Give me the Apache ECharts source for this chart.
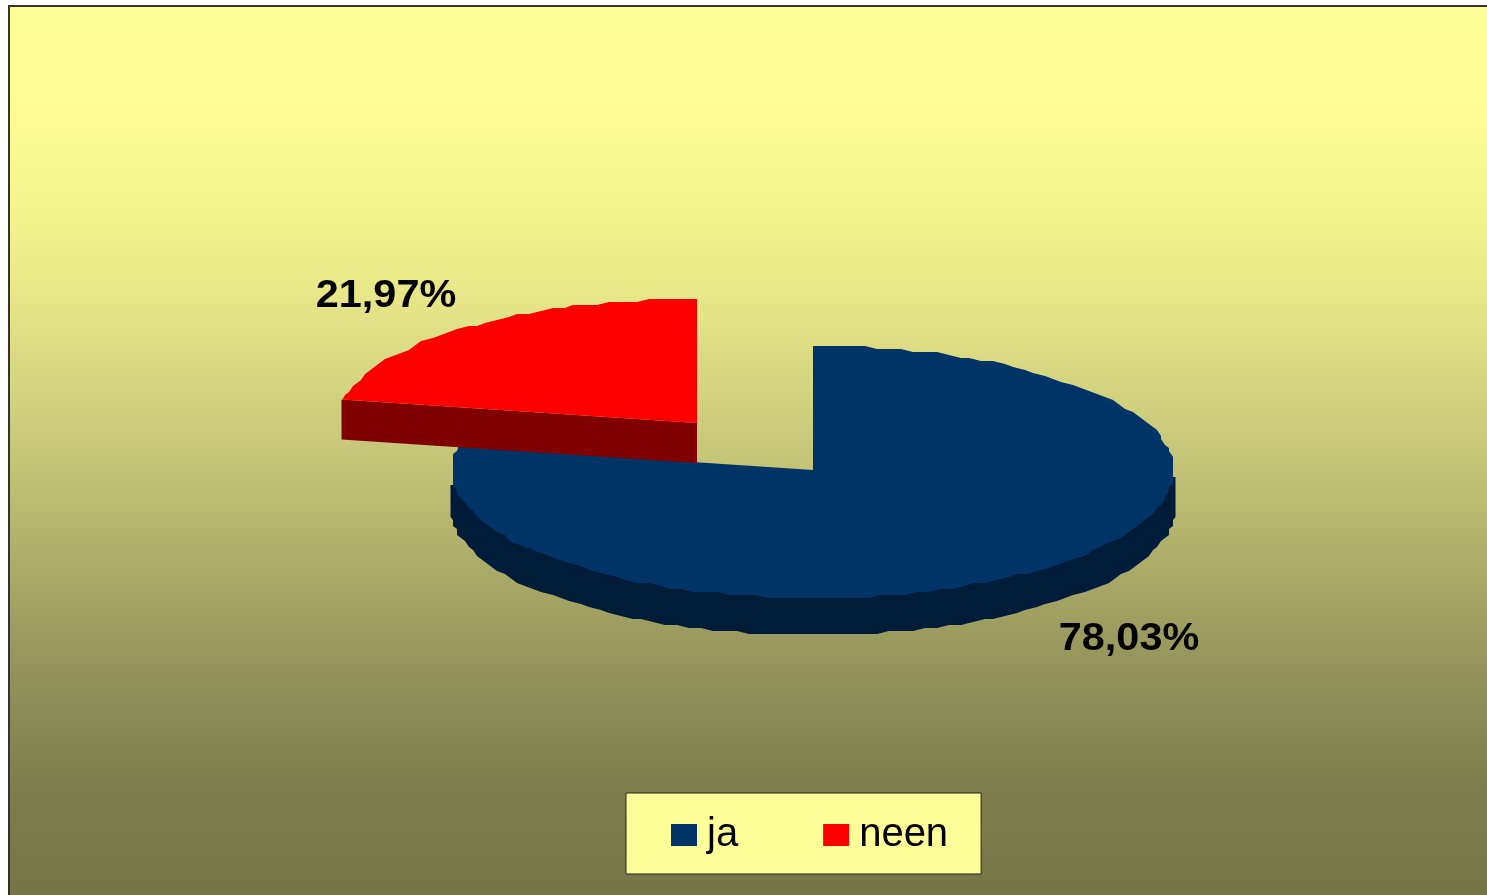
<!DOCTYPE html>
<html><head><meta charset="utf-8">
<style>html,body{margin:0;padding:0;background:#fff;overflow:hidden}#c{width:1487px;height:895px}</style>
<script src="https://cdn.jsdelivr.net/npm/echarts@6/dist/echarts.min.js"></script>
</head><body><div id="c"></div>
<script>
const categories = ['ja', 'neen'];
const shares = [78.03, 21.97];
const topColors = ['#003366', '#FF0000'];
const sideColors = ['#001C38', '#800000'];

const chart = echarts.init(document.getElementById('c'));
const total = shares[0] + shares[1];
const C = {x: 813, y: 470, rx: 361, ryTop: 124, ryBot: 128, depth: 37, sideRx: 363.5, sideMax: 362.5};
const snap = (v, g, o) => Math.round((v - o) / g) * g + o;
function rim(a, dy, coarse, rx) {
  const s = Math.sin(a), c = Math.cos(a);
  const x = C.x + (rx || C.rx) * s;
  const y = C.y - (c > 0 ? C.ryTop : C.ryBot) * c + dy;
  return coarse ? [snap(x, 4, 1), snap(y, 3, 1)] : [x, y];
}
function arc(a0, a1, dy, ox, oy, rx) {
  const pts = [];
  const n = Math.ceil(Math.abs(a1 - a0) / (2 * Math.PI / 180));
  for (let i = 0; i <= n; i++) {
    const a = a0 + (a1 - a0) * i / n;
    const p = rim(a, dy, i > 0 && i < n, rx);
    pts.push([p[0] + ox, p[1] + oy]);
  }
  return pts;
}
function fmt(v) { return v.toFixed(2).replace('.', ',') + '%'; }
function labelEl(text, x, y) {
  return {type: 'text', x: x, y: y, scaleX: 1.09, z2: 20,
    style: {text: text, font: 'bold 38px "Liberation Sans"', fill: '#000', align: 'center', verticalAlign: 'middle'}};
}
function renderSlice(idx) {
  return function (params, api) {
    const v = api.value(0);
    const start = idx === 0 ? 0 : shares[0] / total * 2 * Math.PI;
    const end = start + v / total * 2 * Math.PI;
    const children = [];
    if (idx === 0) {
      const low = arc(Math.PI / 2, 1.5 * Math.PI, C.depth, 0, 0, C.sideRx)
        .map(p => [Math.max(C.x - C.sideMax, Math.min(C.x + C.sideMax, p[0])), p[1]]);
      const side = [[C.x + C.sideMax, C.y + 7]].concat(low, [[C.x - C.sideMax, C.y + 15]]);
      children.push({type: 'polygon', shape: {points: side}, style: {fill: sideColors[0]}});
      const top = [[C.x, C.y]].concat(arc(start, end, 0, 0, 0));
      children.push({type: 'polygon', shape: {points: top}, style: {fill: topColors[0]}});
      children.push(labelEl(fmt(v), 1129, 640));
    } else {
      const ox = -116, oy = -47, d = 40;
      const apex = [C.x + ox, C.y + oy];
      const edge = rim(start, 0, false);
      const outer = [edge[0] + ox - 1, edge[1] + oy];
      children.push({type: 'polygon', shape: {points: [apex, outer, [outer[0], outer[1] + d], [apex[0], apex[1] + d]]}, style: {fill: sideColors[1]}});
      const top = [apex].concat(arc(start, end, 0, ox, oy));
      children.push({type: 'polygon', shape: {points: top}, style: {fill: topColors[1]}});
      children.push(labelEl(fmt(v), 386, 297));
    }
    return {type: 'group', children: children};
  };
}
const yStop = (y, color) => ({offset: (y - 6) / 900, color: color});
chart.setOption({
  animation: false,
  graphic: [{type: 'rect', z: -10, silent: true,
    shape: {x: 9, y: 6, width: 1490, height: 900},
    style: {stroke: '#333', lineWidth: 2,
      fill: new echarts.graphic.LinearGradient(0, 0, 0, 1, [
        yStop(6, '#FFFF96'), yStop(100, '#FDFD93'), yStop(200, '#F5F58F'), yStop(300, '#E6E688'),
        yStop(400, '#D2D17F'), yStop(500, '#BCBC72'), yStop(600, '#A3A364'), yStop(700, '#8D8D57'),
        yStop(800, '#7C7C4B'), yStop(906, '#747446')])}}],
  legend: {
    data: categories, icon: 'rect', left: 626, top: 793,
    itemWidth: 26, itemHeight: 22, itemGap: 85,
    padding: [22, 33, 19, 45],
    backgroundColor: '#FFFF99', borderColor: '#222', borderWidth: 1,
    textStyle: {fontFamily: '"Liberation Sans"', fontSize: 40, color: '#000', padding: [0, 0, 8, 5]}
  },
  series: categories.map((name, i) => ({
    type: 'custom', name: name, coordinateSystem: 'none', silent: true,
    itemStyle: {color: topColors[i]}, z: i === 0 ? 2 : 3,
    renderItem: renderSlice(i), data: [[shares[i]]]
  }))
});
</script></body></html>
